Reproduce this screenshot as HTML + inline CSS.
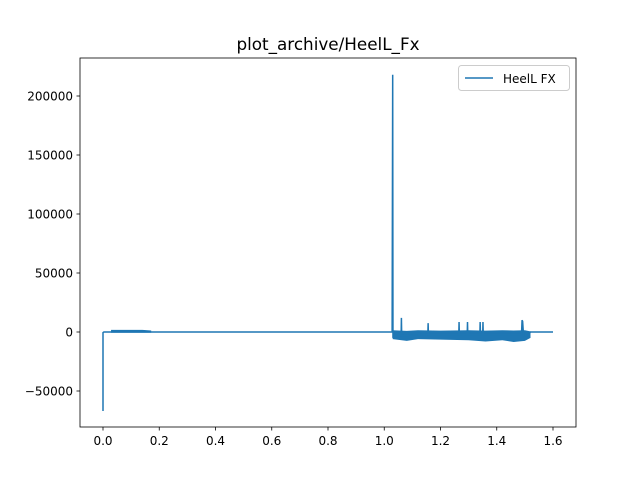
<!DOCTYPE html>
<html><head><meta charset="utf-8"><style>
body{margin:0;background:#fff;}
svg text{font-family:"DejaVu Sans","Liberation Sans",sans-serif;}
</style></head><body>
<svg id="c" width="640" height="480" xmlns="http://www.w3.org/2000/svg">
<rect width="640" height="480" fill="#fff"/>
<text x="328" y="50" font-size="16.8" text-anchor="middle">plot_archive/HeelL_Fx</text>
<g id="plot"></g>
<rect x="80" y="58" width="496" height="369" fill="none" stroke="#000" stroke-width="0.8"/>
<g id="xt"></g><g id="yt"></g>
<g>
<rect x="458.5" y="65.5" width="111" height="25" rx="3" fill="#fff" stroke="#ccc"/>
<line x1="465" y1="78" x2="493" y2="78" stroke="#1f77b4" stroke-width="1.5"/>
<text x="503" y="83" font-size="12">HeelL FX</text>
</g>
</svg>
<script>
const xTicks=[0.0,0.2,0.4,0.6,0.8,1.0,1.2,1.4,1.6];
const yTicks=[-50000,0,50000,100000,150000,200000];
const seriesX=[0,0,0.003,0.03,0.1,0.16,0.17,1.028,1.03,1.031,1.033,1.06,1.061,1.062,1.155,1.156,1.157,1.265,1.266,1.267,1.295,1.296,1.297,1.34,1.341,1.342,1.35,1.351,1.352,1.488,1.49,1.492,1.495,1.5,1.52,1.6];
const seriesY=[-67000,-500,0,0,0,0,0,0,218000,-5000,0,-3000,12000,-3000,-2000,7500,-2000,-2000,8500,-2000,-2000,8500,-2000,-2000,8500,-2000,-2000,8500,-2000,-2000,10000,9000,-2000,-6000,0,0];
const earlyX=[0.03,0.06,0.1,0.14,0.17];
const earlyHigh=[1500,1500,1500,1500,1000];
const earlyLow=[-300,-300,-300,-300,-300];
const bandX=[1.03,1.08,1.12,1.2,1.3,1.36,1.42,1.46,1.5,1.52];
const bandHigh=[1500,1000,1500,1200,1500,1200,1500,1300,1500,500];
const bandLow=[-6000,-7500,-6000,-6500,-7000,-8000,-7000,-8500,-7500,-5000];
const X=v=>103+v*281.25, Y=v=>332-v*0.00118;
const ns="http://www.w3.org/2000/svg";
const plot=document.getElementById('plot');
function mk(t,a,p){const e=document.createElementNS(ns,t);for(const k in a)e.setAttribute(k,a[k]);p.appendChild(e);return e;}
function poly(xs,hi,lo){return xs.map((x,i)=>X(x)+','+Y(hi[i])).concat(xs.map((x,i)=>X(x)+','+Y(lo[i])).reverse()).join(' ');}
const band=mk('polygon',{points:poly(bandX,bandHigh,bandLow),fill:'#1f77b4'},plot);


const eb=mk('polygon',{points:poly(earlyX,earlyHigh,earlyLow),fill:'#1f77b4',stroke:'#1f77b4','stroke-width':0.8},plot);


const line=mk('polyline',{points:seriesX.map((x,i)=>X(x)+','+Y(seriesY[i])).join(' '),fill:'none',stroke:'#1f77b4','stroke-width':1.5},plot);


const xt=document.getElementById('xt'),yt=document.getElementById('yt');
xTicks.forEach(v=>{const x=X(v);mk('line',{x1:x,x2:x,y1:427,y2:430.5,stroke:'#000','stroke-width':0.8},xt);
const t=mk('text',{x:x,y:445,'font-size':12,'text-anchor':'middle'},xt);t.textContent=v.toFixed(1);

});
yTicks.forEach(v=>{const y=Y(v);mk('line',{x1:76.5,x2:80,y1:y,y2:y,stroke:'#000','stroke-width':0.8},yt);
const t=mk('text',{x:73,y:y+4.5,'font-size':12,'text-anchor':'end'},yt);t.textContent=v<0?'\u2212'+(-v):String(v);

});
</script>
</body></html>
